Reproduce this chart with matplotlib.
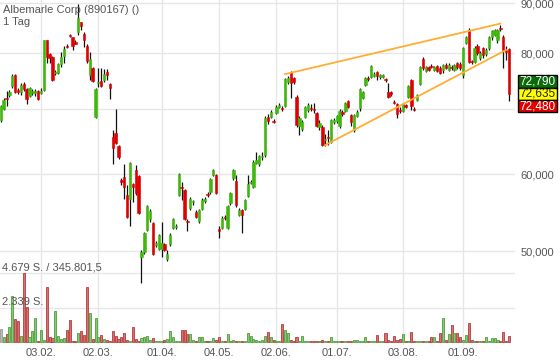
import numpy as np
import pandas as pd
import matplotlib
matplotlib.use("Agg")
import matplotlib.pyplot as plt
from matplotlib.patches import Rectangle
from matplotlib.ticker import FixedFormatter, NullLocator

plt.rcParams['font.family'] = ['Liberation Sans', 'DejaVu Sans']

title = "Albemarle Corp (890167) ()"
period = "1 Tag"

# trading days (exchange closed on these)
holidays = ["2020-04-10", "2020-04-13", "2020-05-01", "2020-06-01"]
dates = pd.bdate_range("2020-01-14", "2020-09-23")
dates = dates[~dates.isin(pd.to_datetime(holidays))]

opens = [
    68.19, 70.00, 71.89, 72.40, 73.97, 75.93, 73.27, 72.92, 74.32, 73.45,
    72.23, 72.75, 72.75, 73.10, 72.75, 73.27, 82.43, 79.81, 79.24, 76.29,
    76.29, 77.94, 79.43, 81.43, 83.61, 83.02, 82.23, 84.01, 86.03, 83.81,
    81.43, 75.93, 77.20, 68.68, 74.50, 74.85, 75.03, 76.47, 74.32, 65.50,
    66.12, 64.11, 59.15, 59.58, 57.08, 56.54, 58.59, 60.56, 59.72, 49.29,
    49.88, 52.53, 53.92, 53.40, 50.69, 50.24, 50.24, 50.81, 49.06, 50.81,
    52.78, 52.90, 57.08, 58.17, 57.76, 53.66, 55.34, 56.14, 54.82, 53.66,
    55.21, 56.27, 57.22, 57.49, 59.86, 59.86, 52.65, 52.78, 54.17, 52.78,
    56.00, 59.43, 59.01, 54.43, 55.08, 55.21, 56.94, 58.80, 58.17, 61.57,
    61.43, 62.45, 62.75, 68.68, 68.68, 68.03, 69.34, 70.35, 70.17, 70.53,
    74.67, 76.47, 75.39, 72.06, 67.23, 66.75, 68.68, 69.83, 70.17, 70.00,
    69.34, 67.07, 67.07, 65.03, 65.50, 64.72, 67.87, 68.03, 67.23, 69.50,
    69.67, 71.38, 69.01, 66.59, 68.85, 70.17, 71.89, 74.14, 75.39, 75.57,
    75.75, 76.47, 75.57, 75.57, 75.21, 72.92, 72.92, 71.21, 70.87, 69.83,
    69.67, 70.70, 72.06, 75.03, 70.00, 71.55, 74.32, 78.87, 76.65, 77.38,
    77.57, 76.83, 77.57, 77.20, 76.83, 77.75, 76.83, 77.38, 76.83, 78.12,
    77.94, 75.93, 82.03, 84.61, 78.49, 78.31, 81.43, 79.06, 81.00, 79.81,
    81.00, 83.02, 83.61, 82.43, 85.01, 83.02, 80.57, 80.77]

closes = [
    70.53, 71.55, 71.72, 72.92, 75.75, 72.92, 72.92, 74.14, 73.45, 71.72,
    73.62, 73.10, 73.10, 71.72, 73.10, 82.43, 79.24, 79.06, 75.03, 76.47,
    77.94, 79.24, 80.79, 81.22, 83.41, 81.43, 81.84, 86.85, 85.22, 82.43,
    78.49, 78.87, 74.85, 73.45, 74.67, 73.97, 76.11, 75.93, 73.62, 63.80,
    64.57, 62.45, 58.87, 58.17, 54.17, 61.57, 58.17, 57.35, 54.69, 49.88,
    52.16, 55.61, 54.95, 49.65, 50.93, 51.91, 50.93, 50.12, 49.65, 51.91,
    53.92, 53.02, 60.00, 58.04, 53.92, 53.53, 56.54, 56.27, 54.17, 55.08,
    56.41, 56.54, 57.08, 59.29, 60.56, 57.35, 52.40, 54.05, 54.05, 55.61,
    57.35, 60.56, 55.74, 55.08, 54.43, 56.41, 58.59, 58.90, 61.72, 62.01,
    62.60, 62.60, 68.52, 68.03, 69.50, 67.87, 70.35, 70.70, 70.00, 75.21,
    75.39, 74.50, 74.67, 67.39, 68.52, 67.87, 70.35, 70.70, 70.00, 69.83,
    67.23, 67.71, 64.26, 65.19, 65.34, 68.19, 68.19, 68.85, 69.67, 69.17,
    71.04, 70.35, 67.87, 69.01, 69.50, 73.45, 72.92, 75.39, 75.21, 77.57,
    76.11, 75.75, 75.93, 75.93, 75.03, 72.06, 72.58, 71.04, 69.17, 69.67,
    70.87, 70.35, 73.97, 70.53, 69.83, 72.40, 77.38, 77.20, 77.38, 76.83,
    77.38, 77.38, 76.65, 76.29, 77.75, 77.20, 77.75, 77.20, 77.75, 77.38,
    77.20, 81.00, 83.02, 78.31, 78.31, 81.00, 80.00, 80.00, 79.62, 80.57,
    83.02, 84.21, 84.61, 84.61, 84.81, 80.57, 80.19, 72.635]

highs = [
    70.70, 71.89, 73.10, 73.27, 76.11, 76.11, 73.62, 74.50, 74.67, 73.62,
    73.79, 73.45, 73.45, 73.27, 73.62, 82.62, 82.62, 80.00, 79.43, 76.83,
    78.12, 80.19, 81.43, 81.84, 83.81, 83.21, 82.62, 89.79, 86.23, 84.01,
    81.65, 80.19, 77.38, 73.62, 77.20, 77.20, 77.01, 77.01, 74.50, 66.59,
    70.00, 64.26, 59.43, 61.43, 58.45, 61.72, 58.73, 61.28, 59.86, 50.12,
    52.28, 55.74, 55.21, 53.53, 51.17, 52.03, 53.53, 50.93, 50.12, 52.16,
    54.05, 53.28, 60.14, 58.87, 57.90, 53.92, 56.81, 56.41, 55.08, 55.21,
    56.68, 56.81, 57.49, 59.43, 60.71, 60.00, 53.02, 54.30, 54.43, 55.74,
    57.49, 60.71, 59.86, 55.34, 55.21, 56.54, 59.86, 59.15, 62.01, 63.20,
    62.75, 63.20, 68.85, 69.17, 69.83, 68.36, 70.70, 71.04, 70.53, 75.39,
    75.75, 76.65, 75.57, 72.40, 68.85, 68.19, 70.53, 71.04, 70.87, 71.04,
    69.50, 68.19, 67.39, 65.97, 66.59, 68.36, 68.52, 69.01, 70.00, 69.83,
    71.21, 71.55, 69.17, 69.17, 69.83, 73.62, 73.10, 75.57, 75.75, 77.75,
    76.47, 76.65, 76.11, 76.11, 75.39, 74.50, 73.10, 71.55, 71.04, 70.35,
    71.04, 70.87, 74.14, 75.21, 70.35, 72.58, 77.57, 79.24, 77.57, 77.57,
    77.94, 77.57, 77.75, 77.57, 77.94, 78.12, 78.12, 77.75, 77.94, 78.31,
    78.31, 81.22, 83.41, 85.01, 78.68, 81.43, 81.84, 80.38, 81.22, 81.00,
    83.41, 84.41, 84.81, 84.81, 85.62, 83.61, 81.43, 81.00]

lows = [
    67.87, 69.83, 70.53, 72.06, 73.62, 72.75, 72.58, 72.40, 73.10, 70.87,
    72.06, 72.40, 72.23, 71.55, 72.58, 73.10, 78.12, 78.12, 74.85, 75.93,
    76.11, 77.38, 78.12, 81.00, 83.21, 80.57, 81.65, 83.61, 84.61, 81.22,
    78.12, 75.03, 74.67, 68.52, 73.79, 73.79, 74.67, 75.03, 71.72, 61.43,
    64.41, 62.16, 58.45, 56.54, 54.05, 53.02, 56.14, 57.08, 54.56, 46.34,
    49.65, 52.40, 53.53, 49.53, 50.45, 50.12, 49.29, 50.00, 48.82, 50.57,
    52.65, 52.65, 56.94, 56.41, 53.79, 52.40, 55.08, 55.74, 54.05, 53.40,
    55.08, 56.00, 56.81, 57.22, 59.72, 57.22, 51.54, 52.65, 53.79, 52.65,
    55.74, 59.15, 55.48, 54.30, 52.16, 55.08, 56.81, 58.59, 58.04, 61.43,
    61.14, 62.01, 62.45, 67.55, 68.52, 67.71, 69.17, 70.17, 69.67, 70.35,
    74.32, 71.89, 74.32, 67.07, 65.81, 66.44, 68.52, 69.50, 69.67, 69.34,
    67.07, 66.59, 64.11, 64.11, 64.26, 64.57, 67.55, 67.71, 66.91, 68.85,
    69.50, 70.17, 67.23, 66.28, 68.68, 69.67, 71.72, 73.97, 74.85, 75.39,
    75.57, 75.03, 75.21, 75.39, 74.67, 71.89, 72.23, 70.87, 68.52, 69.34,
    69.50, 70.17, 71.89, 69.83, 69.67, 71.38, 74.14, 76.83, 76.47, 76.65,
    77.20, 76.65, 76.47, 76.11, 76.29, 77.01, 76.65, 76.83, 76.65, 77.01,
    76.83, 75.39, 81.84, 78.12, 77.94, 78.12, 79.62, 78.68, 79.06, 79.43,
    80.57, 82.62, 83.41, 82.03, 84.21, 77.20, 78.68, 71.38]

volumes = [
    860, 340, 540, 1020, 3120, 1560, 1420, 400, 4679, 2370,
    340, 750, 1630, 70, 810, 140, 3730, 340, 270, 2100,
    400, 200, 270, 810, 1490, 70, 100, 610, 750, 470,
    3730, 1970, 200, 1630, 350, 470, 200, 140, 100, 750,
    400, 200, 340, 610, 140, 100, 1020, 200, 100, 270,
    340, 400, 140, 270, 70, 100, 100, 140, 200, 750,
    340, 100, 100, 810, 810, 540, 540, 140, 100, 340,
    340, 100, 100, 100, 270, 140, 340, 70, 70, 540,
    70, 140, 100, 70, 70, 100, 610, 400, 200, 140,
    70, 140, 400, 680, 340, 140, 70, 70, 1220, 810,
    610, 140, 70, 340, 100, 400, 70, 70, 70, 70,
    70, 70, 140, 70, 70, 340, 50, 50, 50, 50,
    100, 70, 70, 140, 140, 100, 70, 340, 70, 100,
    70, 470, 70, 70, 610, 140, 70, 400, 140, 200,
    540, 70, 100, 680, 70, 70, 100, 70, 70, 70,
    340, 340, 100, 610, 1630, 140, 540, 1150, 610, 610,
    340, 140, 470, 1290, 140, 70, 70, 70, 70, 340,
    70, 270, 270, 140, 70, 680, 100, 400]

price_ticks = [50, 60, 70, 80, 90]
# the 70,000 label sits under the quote boxes in the original, so it is left blank
price_labels = ["50,000", "60,000", "", "80,000", "90,000"]
vol_levels = [2339, 4679]
vol_labels = ["2.339 S.", "4.679 S. / 345.801,5"]

# trend channel: (day index, price) pairs
upper_line = ([99, 174], [76.1, 85.8])
lower_line = ([113, 176], [64.3, 80.6])

quotes = ["72,790", "72,635", "72,480"]

GREEN = "#3fb80c"
RED = "#e00000"
GRID = "#e6e6e6"
TXT = "#555555"

x = np.arange(len(dates))
o = np.array(opens)
c = np.array(closes)
up = c >= o

# first trading day of each month except the first (partial) month
month_first = [i for i in range(1, len(dates)) if dates[i].month != dates[i - 1].month]
month_labels = [dates[i].strftime("%d.%m.") for i in month_first]

fig = plt.figure(figsize=(5.6, 3.62), dpi=100)
rect = [0.0, 17 / 362, 515 / 560, 345 / 362]
xlim = (-0.28, 179.1)

# volume panel (bottom layer)
vax = fig.add_axes(rect, zorder=0)
vface = np.where(up, "#86c874", "#d97070")
vedge = np.where(up, "#4e9e3c", "#b23c3c")
vface[0] = "#bbbbbb"
vedge[0] = "#999999"
vax.bar(x, volumes, width=0.72, color=vface, edgecolor=vedge, linewidth=0.6)
vax.set_ylim(-203, 23188)
vax.set_xlim(*xlim)
vax.set_yticks(vol_levels)
vax.set_yticklabels([])
vax.set_xticks(month_first)
vax.set_xticklabels(month_labels)
vax.tick_params(length=0, labelsize=8, labelcolor=TXT, pad=2)
vax.grid(True, color=GRID, lw=1)
vax.set_axisbelow(True)
for s in vax.spines.values():
    s.set_visible(False)
for lvl, lab in zip(vol_levels, vol_labels):
    vax.text(0.003, lvl + 40, lab, transform=vax.get_yaxis_transform(),
             fontsize=8, color=TXT, va="bottom", ha="left")

# price panel
ax = fig.add_axes(rect, zorder=1)
ax.set_facecolor("none")
ax.set_yscale("log")
ax.set_ylim(40.0, 90.75)
ax.set_xlim(*xlim)
ax.vlines(x, lows, highs, color="#111111", lw=0.9, zorder=2)
ccol = np.where(up, GREEN, RED)
ax.bar(x, c - o, bottom=o, width=0.82, color=ccol, edgecolor=ccol,
       linewidth=0.4, zorder=3)
ax.plot(*upper_line, color="#ffad33", lw=1.3, zorder=4)
ax.plot(*lower_line, color="#ffad33", lw=1.3, zorder=4)

ax.yaxis.tick_right()
ax.set_yticks(price_ticks)
ax.yaxis.set_minor_locator(NullLocator())
ax.yaxis.set_major_formatter(FixedFormatter(price_labels))
ax.set_xticks([])
ax.tick_params(axis="y", length=0, labelsize=8, labelcolor=TXT, pad=4)
ax.grid(True, axis="y", color=GRID, lw=1)
ax.set_axisbelow(True)
for s in ax.spines.values():
    s.set_visible(False)

fig.text(3 / 560, 1 - 10 / 362, title, fontsize=8, color=TXT, va="center", ha="left")
fig.text(3 / 560, 1 - 22 / 362, period, fontsize=8, color=TXT, va="center", ha="left")

# last quote boxes on the right
box_colors = [("#0b6b0b", "white"), ("#ffff00", "#222222"), ("#e00000", "white")]
for k, (q, (bg, fg)) in enumerate(zip(quotes, box_colors)):
    top = 75 + k * 12.5
    fig.add_artist(Rectangle((518 / 560, 1 - (top + 12.5) / 362), 39 / 560, 12.5 / 362,
                             transform=fig.transFigure, facecolor=bg,
                             edgecolor="black", lw=1, zorder=5))
    fig.text(537.5 / 560, 1 - (top + 6.5) / 362, q, fontsize=8.5, color=fg,
             ha="center", va="center", zorder=6)

fig.savefig("out.png", dpi=100)
